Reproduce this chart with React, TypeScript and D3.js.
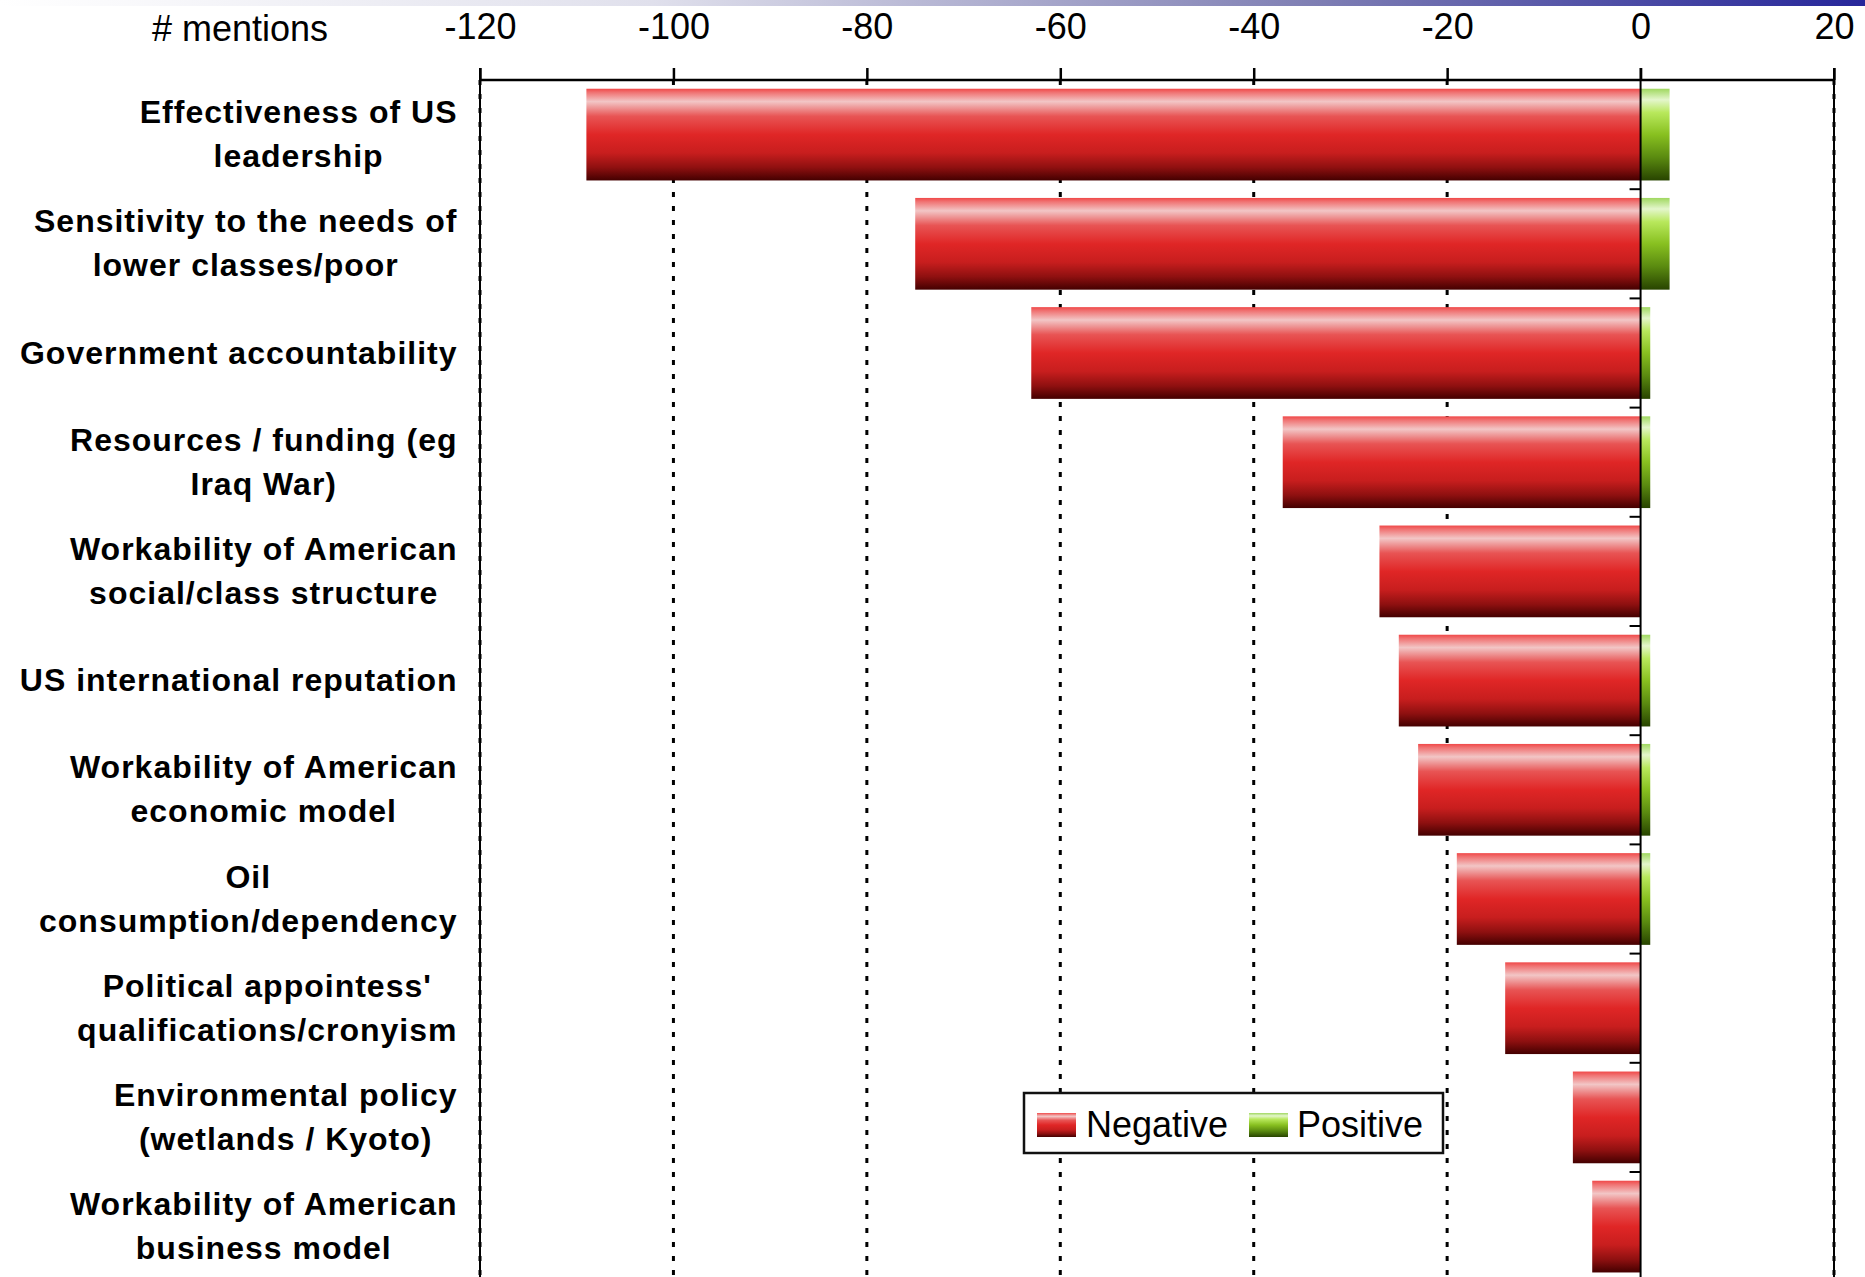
import { useEffect, useRef } from "react";
import * as d3 from "d3";

const categories = [
  "Effectiveness of US\nleadership",
  "Sensitivity to the needs of\nlower classes/poor",
  "Government accountability",
  "Resources / funding (eg\nIraq War)",
  "Workability of American\nsocial/class structure",
  "US international reputation",
  "Workability of American\neconomic model",
  "Oil\nconsumption/dependency",
  "Political appointess'\nqualifications/cronyism",
  "Environmental policy\n(wetlands / Kyoto)",
  "Workability of American\nbusiness model",
];
const negative = [-109, -75, -63, -37, -27, -25, -23, -19, -14, -7, -5];
const positive = [3, 3, 1, 1, 0, 1, 1, 1, 0, 0, 0];
const xTicks = [-120, -100, -80, -60, -40, -20, 0, 20];
const seriesNames = ["Negative", "Positive"];

const W = 1865;
const H = 1277;
const FONT = "'Liberation Sans', Arial, sans-serif";

function App() {
  const svgRef = useRef<SVGSVGElement | null>(null);

  useEffect(() => {
    const svg: any = d3.select(svgRef.current);
    svg.selectAll("*").remove();

    const x = d3.scaleLinear().domain([-120, 20]).range([480, 1834]);
    const y = d3
      .scaleBand()
      .domain(categories)
      .range([80, 80 + 11 * 109.2])
      .paddingInner(0.16)
      .paddingOuter(0.08);
    const bottom = 80 + 11 * 109.2;

    const defs = svg.append("defs");

    const top = defs
      .append("linearGradient")
      .attr("id", "topband")
      .attr("x1", 0)
      .attr("x2", 1)
      .attr("y1", 0)
      .attr("y2", 0);
    [
      [0, "#ffffff"],
      [0.35, "#e0e0ec"],
      [0.7, "#8080b4"],
      [1, "#26269a"],
    ].forEach(([o, c]) => top.append("stop").attr("offset", o).attr("stop-color", c));

    const addGrad = (id: string, stops: [number, string][]) => {
      const g = defs
        .append("linearGradient")
        .attr("id", id)
        .attr("x1", 0)
        .attr("x2", 0)
        .attr("y1", 0)
        .attr("y2", 1);
      stops.forEach(([o, c]) => g.append("stop").attr("offset", o).attr("stop-color", c));
    };
    addGrad("red", [
      [0, "#f04848"],
      [0.04, "#f07272"],
      [0.14, "#f2c6c6"],
      [0.3, "#e85454"],
      [0.5, "#e02626"],
      [0.7, "#c81e1e"],
      [0.86, "#8e1010"],
      [1, "#440000"],
    ]);
    addGrad("green", [
      [0, "#a0d860"],
      [0.12, "#e4f6cc"],
      [0.26, "#b8e85c"],
      [0.5, "#88c020"],
      [0.75, "#5a8a10"],
      [1, "#284400"],
    ]);

    // top decorative band
    svg.append("rect").attr("x", 0).attr("y", 0).attr("width", W).attr("height", 6).attr("fill", "url(#topband)");

    // dotted gridlines
    svg
      .append("g")
      .selectAll("line")
      .data(xTicks.filter((t) => t !== 0))
      .join("line")
      .attr("x1", (d: number) => x(d))
      .attr("x2", (d: number) => x(d))
      .attr("y1", 80)
      .attr("y2", bottom)
      .attr("stroke", "#000")
      .attr("stroke-width", 3)
      .attr("stroke-dasharray", "5,9");

    // edge lines
    [-120, 20].forEach((v) => {
      svg
        .append("line")
        .attr("x1", x(v))
        .attr("x2", x(v))
        .attr("y1", 68)
        .attr("y2", bottom)
        .attr("stroke", "#000")
        .attr("stroke-width", 2);
    });

    const rows = categories.map((c, i) => ({ c, neg: negative[i], pos: positive[i] }));

    svg
      .append("g")
      .selectAll("rect")
      .data(rows)
      .join("rect")
      .attr("x", (d: any) => x(d.neg))
      .attr("y", (d: any) => y(d.c))
      .attr("width", (d: any) => x(0) - x(d.neg))
      .attr("height", y.bandwidth())
      .attr("fill", "url(#red)");

    svg
      .append("g")
      .selectAll("rect")
      .data(rows.filter((d) => d.pos > 0))
      .join("rect")
      .attr("x", x(0))
      .attr("y", (d: any) => y(d.c))
      .attr("width", (d: any) => x(d.pos) - x(0))
      .attr("height", y.bandwidth())
      .attr("fill", "url(#green)");

    // zero line + category ticks
    svg
      .append("line")
      .attr("x1", x(0))
      .attr("x2", x(0))
      .attr("y1", 68)
      .attr("y2", bottom)
      .attr("stroke", "#000")
      .attr("stroke-width", 2);
    svg
      .append("g")
      .selectAll("line")
      .data(categories.slice(1))
      .join("line")
      .attr("x1", x(0) - 11)
      .attr("x2", x(0))
      .attr("y1", (d: string) => (y(d) as number) - (y.step() * 0.16) / 2)
      .attr("y2", (d: string) => (y(d) as number) - (y.step() * 0.16) / 2)
      .attr("stroke", "#000")
      .attr("stroke-width", 2);

    // top axis
    const axis = svg.append("g").attr("transform", "translate(0,80)");
    axis
      .call(
        d3
          .axisTop(x)
          .tickValues(xTicks)
          .tickSize(12)
          .tickPadding(29)
          .tickFormat((d: any) => String(d))
      )
      .call((g: any) => g.select(".domain").attr("stroke-width", 2.5).attr("d", `M${x(-120)},0H${x(20)}`));
    axis.selectAll(".tick line").attr("stroke-width", 2.5);
    axis
      .selectAll(".tick text")
      .attr("font-family", FONT)
      .attr("font-size", 36)
      .attr("fill", "#000");

    svg
      .append("text")
      .attr("x", 152)
      .attr("y", 41)
      .attr("font-family", FONT)
      .attr("font-size", 36)
      .text("# mentions");

    // category labels: lines centred on each other, block right-aligned
    const labels = svg.append("g").attr("font-family", FONT).attr("font-size", 32).attr("font-weight", "bold");
    const right = 457;
    const lineGap = 44;
    const ls = 1.0;
    categories.forEach((c) => {
      const lines = c.split("\n");
      const cy = (y(c) as number) + y.bandwidth() / 2;
      const t = labels.append("text").attr("letter-spacing", ls).attr("text-anchor", "middle");
      const spans = lines.map((ln, j) =>
        t
          .append("tspan")
          .attr("y", cy + 10.5 + (j - (lines.length - 1) / 2) * lineGap)
          .text(ln)
      );
      const widths = spans.map((s: any) => s.node().getComputedTextLength());
      const bw = Math.max(...widths) - ls;
      spans.forEach((s: any) => s.attr("x", right - bw / 2));
    });

    // legend
    const lg = svg.append("g");
    lg.append("rect")
      .attr("x", 1024)
      .attr("y", 1093)
      .attr("width", 419)
      .attr("height", 60)
      .attr("fill", "#fff")
      .attr("stroke", "#111")
      .attr("stroke-width", 2.5);
    const items = [
      { name: seriesNames[0], fill: "url(#red)", sx: 1037, tx: 1086 },
      { name: seriesNames[1], fill: "url(#green)", sx: 1249, tx: 1297 },
    ];
    items.forEach((it) => {
      lg.append("rect")
        .attr("x", it.sx)
        .attr("y", 1113)
        .attr("width", 39)
        .attr("height", 24)
        .attr("fill", it.fill);
      lg.append("text")
        .attr("x", it.tx)
        .attr("y", 1137)
        .attr("font-family", FONT)
        .attr("font-size", 36)
        .text(it.name);
    });
  }, []);

  return (
    <div style={{ position: "absolute", left: 0, top: 0 }}>
      <svg ref={svgRef} width={W} height={H} style={{ display: "block", background: "#fff" }}></svg>
    </div>
  );
}

export default App;
